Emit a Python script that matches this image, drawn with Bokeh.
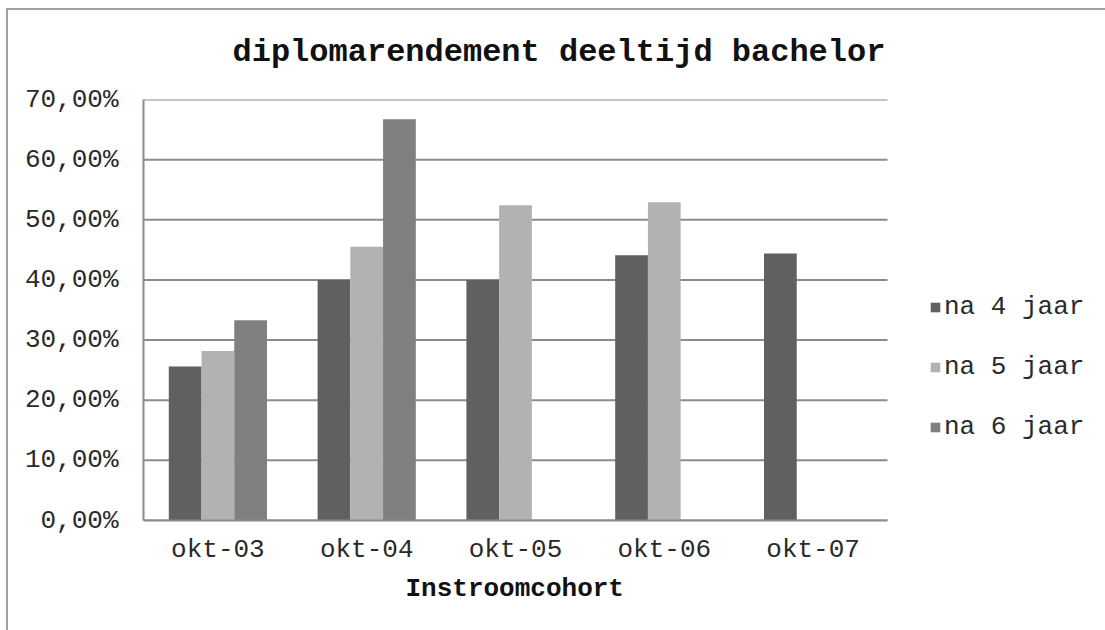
from bokeh.plotting import figure
from bokeh.models import (ColumnDataSource, Range1d, FixedTicker, Title,
                          CustomJSTickFormatter, Legend, LegendItem)
from bokeh.transform import dodge
from bokeh.embed import file_html
from bokeh.resources import INLINE

NaN = float("nan")

categories = ["okt-03", "okt-04", "okt-05", "okt-06", "okt-07"]
na_4_jaar = [0.256, 0.400, 0.400, 0.441, 0.444]
na_5_jaar = [0.282, 0.455, 0.524, 0.529, NaN]
na_6_jaar = [0.333, 0.667, NaN, NaN, NaN]
series_labels = ["na 4 jaar", "na 5 jaar", "na 6 jaar"]
series_colors = ["#606060", "#b2b2b2", "#808080"]
y_ticks = [0.0, 0.1, 0.2, 0.3, 0.4, 0.5, 0.6, 0.7]
title_text = "diplomarendement deeltijd bachelor"
x_title = "Instroomcohort"

FONT = "Liberation Mono"

n = len(categories)
x_pos = [i + 0.5 for i in range(n)]
source = ColumnDataSource(dict(x=x_pos, s4=na_4_jaar, s5=na_5_jaar, s6=na_6_jaar))

# plot area is 744 px for the categories; extra room on the right holds the legend
px_per_cat = 744 / n
x_end = n + 218 / px_per_cat

p = figure(width=1105, height=630, output_backend="svg", toolbar_location=None,
           x_range=Range1d(0, x_end), y_range=Range1d(0, 0.7),
           min_border_left=143, min_border_right=0, min_border_top=99, min_border_bottom=110)

p.border_fill_color = None
p.background_fill_color = "white"
p.outline_line_color = None
p.styles = {"box-shadow": "inset 6px 8px 0 0 #ffffff, inset 8px 10px 0 0 #a0a0a0"}

# horizontal gridlines limited to the category area
p.xgrid.grid_line_color = None
p.ygrid.grid_line_color = None
p.segment(x0=[0] * len(y_ticks), x1=[n] * len(y_ticks), y0=y_ticks, y1=y_ticks,
          line_color="#8c8c8c", line_width=2)

bw = 0.22
renderers = []
for key, off, col in zip(["s4", "s5", "s6"], [-bw, 0, bw], series_colors):
    r = p.vbar(x=dodge("x", off), top=key, width=bw, source=source,
               fill_color=col, line_color=None)
    renderers.append(r)

# title
p.title.text = title_text
p.title.text_font = FONT
p.title.text_font_size = "32px"
p.title.text_font_style = "bold"
p.title.text_color = "#111111"
p.title.align = "left"
p.title.offset = 89
p.title.standoff = 57

# y axis
p.yaxis.ticker = FixedTicker(ticks=y_ticks)
p.yaxis.formatter = CustomJSTickFormatter(code="return (tick*100).toFixed(2).replace('.', ',') + '%';")
p.yaxis.major_label_text_font = FONT
p.yaxis.major_label_text_font_size = "26px"
p.yaxis.major_label_text_color = "#2a2a2a"
p.yaxis.major_label_standoff = 25
p.yaxis.major_tick_out = 0
p.yaxis.major_tick_in = 0
p.yaxis.minor_tick_out = 0
p.yaxis.minor_tick_in = 0
p.yaxis.axis_line_color = "#8c8c8c"
p.yaxis.axis_line_width = 2

# x axis
p.xaxis.ticker = FixedTicker(ticks=x_pos)
p.xaxis.formatter = CustomJSTickFormatter(args=dict(cats=categories),
                                          code="return cats[Math.floor(tick)];")
p.xaxis.bounds = (0, n)
p.xaxis.major_label_text_font = FONT
p.xaxis.major_label_text_font_size = "26px"
p.xaxis.major_label_text_color = "#2a2a2a"
p.xaxis.major_label_standoff = 14
p.xaxis.major_tick_out = 0
p.xaxis.major_tick_in = 0
p.xaxis.minor_tick_out = 0
p.xaxis.minor_tick_in = 0
p.xaxis.axis_line_color = "#8c8c8c"
p.xaxis.axis_line_width = 2

# x-axis title, centred under the category area
xt = Title(text=x_title, align="left", offset=262, standoff=8,
           text_font=FONT, text_font_size="26px", text_font_style="bold", text_color="#111111")
p.add_layout(xt, "below")

legend = Legend(items=[LegendItem(label=l, renderers=[r]) for l, r in zip(series_labels, renderers)],
                location=(786, 78), orientation="vertical")
legend.label_text_font = FONT
legend.label_text_font_size = "26px"
legend.label_text_color = "#2a2a2a"
legend.glyph_width = 12
legend.glyph_height = 12
legend.label_standoff = 3
legend.label_height = 30
legend.spacing = 30
legend.padding = 0
legend.margin = 0
legend.border_line_color = None
legend.background_fill_color = None
legend.background_fill_alpha = 0
p.add_layout(legend, "center")

open("out.html", "w").write(file_html(p, INLINE))
